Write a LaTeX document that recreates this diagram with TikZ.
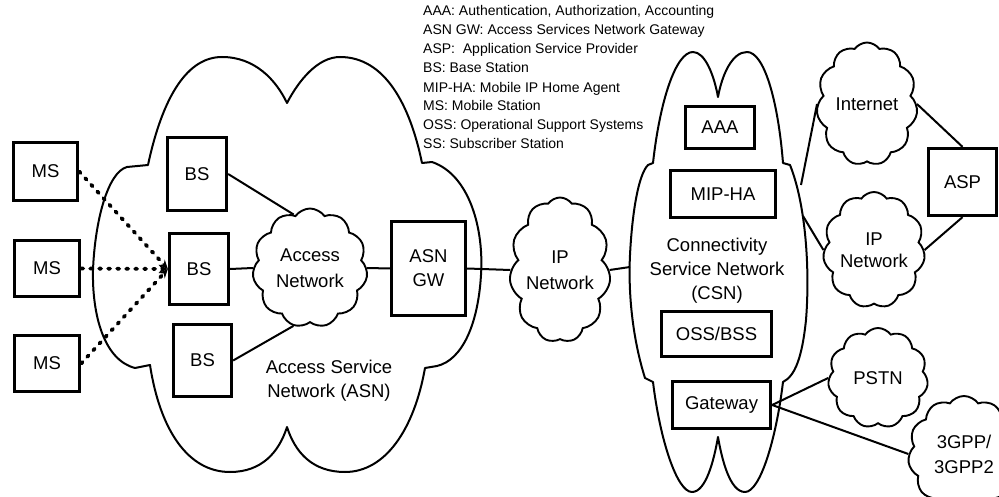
\documentclass[tikz,border=0pt]{standalone}
\usepackage{fontspec}
\setmainfont{Liberation Sans}
\usetikzlibrary{shapes.symbols,arrows.meta}

\begin{document}
\begin{tikzpicture}[x=1pt,y=-1pt,
  lbl/.style={font=\fontsize{18.5}{24}\selectfont,align=center,inner sep=0pt},
  box/.style={draw=black,line width=2.8pt,rectangle,inner sep=0pt,
              font=\fontsize{18.5}{24}\selectfont,align=center},
  netcloud/.style={cloud,draw=black,line width=1.9pt,cloud puffs=11,
              cloud puff arc=110,cloud ignores aspect,inner sep=0pt,
              font=\fontsize{18.5}{26}\selectfont,align=center},
  bigcloud/.style={draw=black,line width=2pt,line join=round},
  conn/.style={draw=black,line width=2pt},
  radio/.style={draw=black,line width=3.8pt,line cap=round,
                dash pattern=on 2pt off 7pt,
                -{Stealth[length=9pt,width=8pt,line cap=butt]}},
  legend/.style={font=\fontsize{14}{19}\selectfont,align=left,inner sep=0pt}]

\useasboundingbox (0,0) rectangle (999,497);

% ---------- Access Service Network cloud ----------
\draw[bigcloud] (148,165)
  .. controls (163,95) and (188,57) .. (222,57)
  .. controls (255,57) and (276,80) .. (287,103)
  .. controls (299,80) and (318,57) .. (340,57)
  .. controls (385,57) and (410,105) .. (422,163)
  -- (432,162)
  .. controls (470,175) and (484,230) .. (481,275)
  .. controls (478,325) and (462,360) .. (437,366)
  -- (425,368)
  .. controls (414,430) and (385,472) .. (345,472)
  .. controls (312,472) and (295,452) .. (287,427)
  .. controls (279,452) and (262,472) .. (230,472)
  .. controls (188,472) and (160,430) .. (150,365)
  -- (135,368)
  .. controls (104,360) and (92,315) .. (93,270)
  .. controls (95,220) and (108,172) .. (127,167)
  -- cycle;
\node[lbl] (asnlbl) at (329,381) {Access Service\\Network (ASN)};

% ---------- Connectivity Service Network cloud ----------
\draw[bigcloud] (653,163)
  .. controls (660,100) and (676,52) .. (693,52)
  .. controls (705,52) and (714,75) .. (718,97)
  .. controls (722,75) and (732,52) .. (747,52)
  .. controls (764,52) and (778,100) .. (783,163)
  -- (790,165)
  .. controls (806,205) and (810,270) .. (806,320)
  .. controls (802,358) and (795,376) .. (783,382)
  .. controls (776,440) and (760,492) .. (745,492)
  .. controls (730,492) and (722,460) .. (718,437)
  .. controls (714,460) and (706,492) .. (692,492)
  .. controls (677,492) and (660,440) .. (653,382)
  -- (645,378)
  .. controls (633,340) and (628,295) .. (630,255)
  .. controls (632,215) and (638,175) .. (648,165)
  -- cycle;
\node[lbl] (csnlbl) at (717,271) {Connectivity\\Service Network\\(CSN)};
\coordinate (csnW) at (630,267);
\coordinate (csnR1) at (801,185);
\coordinate (csnR2) at (803,216);

% ---------- legend ----------
\node[legend,anchor=north west] (legend) at (423,5) {%
AAA: Authentication, Authorization, Accounting\\
ASN GW: Access Services Network Gateway\\
ASP:\ \ Application Service Provider\\
BS: Base Station\\[1.5pt]
MIP-HA: Mobile IP Home Agent\\[-1.5pt]
MS: Mobile Station\\
OSS: Operational Support Systems\\
SS: Subscriber Station};

% ---------- mobile stations ----------
\node[box,minimum width=64.5pt,minimum height=58.5pt] (ms1) at (45.5,171.5) {MS};
\node[box,minimum width=65.5pt,minimum height=56.5pt] (ms2) at (47,268.5) {MS};
\node[box,minimum width=65.5pt,minimum height=56.5pt] (ms3) at (47,363.5) {MS};

% ---------- base stations ----------
\node[box,minimum width=59.5pt,minimum height=73.5pt] (bs1) at (197,174) {BS};
\node[box,minimum width=59.5pt,minimum height=71.5pt] (bs2) at (199,269) {BS};
\node[box,minimum width=58.5pt,minimum height=72.5pt] (bs3) at (202.5,360.5) {BS};

% ---------- access network and gateway ----------
\node[netcloud,minimum width=115pt,minimum height=119pt] (acc) at (310,268) {Access\\Network};
\node[box,minimum width=74.5pt,minimum height=94.5pt] (gw) at (428.5,268.5) {ASN\\GW};
\node[netcloud,minimum width=101pt,minimum height=145pt] (ipn) at (560,270) {IP\\Network};

% ---------- CSN functions ----------
\node[box,minimum width=69.5pt,minimum height=42.5pt] (aaa) at (720,127.5) {AAA};
\node[box,minimum width=105.5pt,minimum height=47.5pt] (mip) at (723,194) {MIP-HA};
\node[box,minimum width=110.5pt,minimum height=45.5pt] (oss) at (716.5,334) {OSS/BSS};
\node[box,minimum width=98.5pt,minimum height=47.5pt] (gwy) at (721.5,405) {Gateway};

% ---------- external networks ----------
\node[netcloud,minimum width=101pt,minimum height=123pt,
      font=\fontsize{18.5}{22}\selectfont] (inet) at (867,104) {Internet};
\node[netcloud,minimum width=102pt,minimum height=116pt,
      font=\fontsize{18.5}{22}\selectfont] (ipr) at (874,250) {IP\\Network};
\node[box,minimum width=68.5pt,minimum height=67.5pt] (asp) at (962.5,182) {ASP};
\node[netcloud,minimum width=100pt,minimum height=100pt] (pstn) at (878,378) {PSTN};
\begin{scope}
  \clip (0,0) rectangle (999,497);
  \node[netcloud,minimum width=112pt,minimum height=116pt,
        font=\fontsize{18.5}{25}\selectfont] (g3) at (964,454) {3GPP/\\3GPP2};
\end{scope}

% ---------- links ----------
\draw[radio] (ms1.east) -- (bs2.west);
\draw[radio] (ms2.east) -- (bs2.west);
\draw[radio] (ms3.east) -- (bs2.west);

\draw[conn] (bs1.east) -- (acc.107);
\draw[conn] (bs2.east) -- (acc.west);
\draw[conn] (bs3.east) -- (acc.254);
\draw[conn] (acc.east) -- (gw.west);
\draw[conn] (gw.east) -- (ipn.west);
\draw[conn] (ipn.east) -- (csnW);

\draw[conn] (csnR1) -- (inet.west);
\draw[conn] (csnR2) -- (ipr.west);
\draw[conn] (inet.east) -- (asp.north);
\draw[conn] (ipr.east) -- (asp.south);
\draw[conn] (gwy.east) -- (pstn.west);
\draw[conn] (gwy.east) -- (g3.west);
\end{tikzpicture}
\end{document}
